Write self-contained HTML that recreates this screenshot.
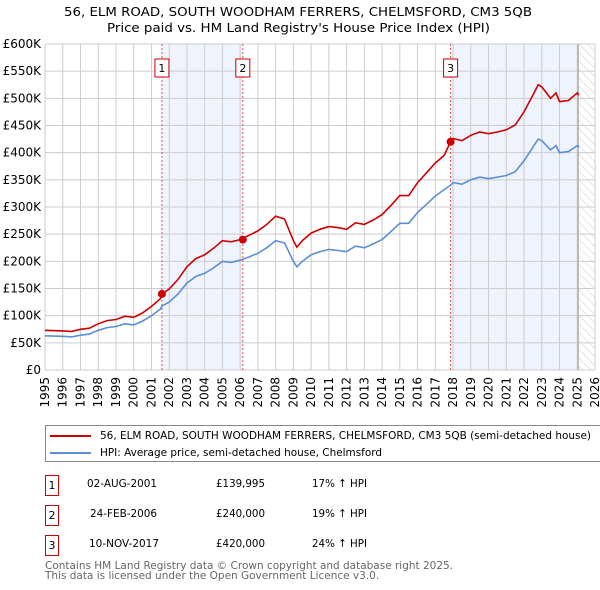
<!DOCTYPE html>
<html><head><meta charset="utf-8"><style>
body{margin:0;background:#fff;font-family:"DejaVu Sans","Liberation Sans",sans-serif;}
#wrap{position:relative;width:600px;height:590px;overflow:hidden;}
.t{position:absolute;font-size:11px;color:#000;white-space:nowrap;}
.fit{transform-origin:0 0;}
.box{position:absolute;border:1px solid #c00;width:12px;height:19px;font-size:11px;text-align:center;line-height:19px;}
</style></head><body><div id="wrap">
<svg id="chart" width="600" height="420" style="position:absolute;left:0;top:0"></svg>
<div style="position:absolute;left:45px;top:425px;width:560px;height:35px;border:1px solid #888;"></div>
<div style="position:absolute;left:50px;top:435px;width:41px;height:2px;background:#c00"></div>
<div class="t fit" data-w="491" style="left:100px;top:429px;">56, ELM ROAD, SOUTH WOODHAM FERRERS, CHELMSFORD, CM3 5QB (semi-detached house)</div>
<div style="position:absolute;left:50px;top:452px;width:41px;height:2px;background:#5b8fd4"></div>
<div class="t fit" data-w="282" style="left:100px;top:446px;">HPI: Average price, semi-detached house, Chelmsford</div>

<div class="box" style="left:45px;top:475px">1</div>
<div class="t fit" data-w="70" style="left:87px;top:477px">02-AUG-2001</div>
<div class="t fit" data-w="49" style="left:216px;top:477px">£139,995</div>
<div class="t fit" data-w="55" style="left:312px;top:477px">17% ↑ HPI</div>
<div class="box" style="left:45px;top:505px">2</div>
<div class="t fit" data-w="67" style="left:90px;top:507px">24-FEB-2006</div>
<div class="t fit" data-w="49" style="left:216px;top:507px">£240,000</div>
<div class="t fit" data-w="55" style="left:312px;top:507px">19% ↑ HPI</div>
<div class="box" style="left:45px;top:535px">3</div>
<div class="t fit" data-w="70" style="left:89px;top:537px">10-NOV-2017</div>
<div class="t fit" data-w="49" style="left:216px;top:537px">£420,000</div>
<div class="t fit" data-w="55" style="left:312px;top:537px">24% ↑ HPI</div>
<div class="t fit" data-w="408" style="left:45px;top:561px;color:#666;font-size:11px;line-height:10px">Contains HM Land Registry data © Crown copyright and database right 2025.<br>This data is licensed under the Open Government Licence v3.0.</div>
</div>
<script>
const years=[1995,1996,1996.5,1997,1997.5,1998,1998.5,1999,1999.5,2000,2000.5,2001,2001.5,2001.6,2002,2002.5,2003,2003.5,2004,2004.5,2005,2005.5,2006,2006.5,2007,2007.5,2008,2008.5,2009,2009.2,2009.5,2010,2010.5,2011,2011.5,2012,2012.5,2013,2013.5,2014,2014.5,2015,2015.5,2016,2016.5,2017,2017.5,2017.86,2018,2018.5,2019,2019.5,2020,2020.5,2021,2021.5,2022,2022.5,2022.8,2023,2023.5,2023.8,2024,2024.5,2025,2025.1];
const hpi=[63,62,61,64,66,73,78,80,85,83,90,100,112,118,125,140,160,172,178,188,200,198,202,208,215,225,238,234,200,190,200,212,218,222,220,218,228,225,232,240,255,270,270,290,305,320,332,340,345,342,350,355,352,355,358,365,385,410,425,422,405,413,400,402,413,410];
const prop=[73,72,71,75,77,85,91,93,99,97,105,117,131,140,149,167,190,205,212,224,238,236,240,248,256,268,283,278,238,226,238,252,259,264,262,259,271,268,276,286,303,321,321,345,363,381,395,420,426,422,432,438,435,438,442,451,475,506,525,521,500,510,494,496,510,506];
const saleYears=[2001.59,2006.15,2017.86];
const salePrices=[139995,240000,420000];
const saleLabels=["1","2","3"];
const yTicks=[0,50,100,150,200,250,300,350,400,450,500,550,600];
const xTicks=[1995,1996,1997,1998,1999,2000,2001,2002,2003,2004,2005,2006,2007,2008,2009,2010,2011,2012,2013,2014,2015,2016,2017,2018,2019,2020,2021,2022,2023,2024,2025,2026];
document.querySelectorAll('.fit').forEach(el=>{const w=el.getBoundingClientRect().width;el.style.transform='scaleX('+(el.dataset.w/w)+')';});
const X0=45,X1=595,Y0=370,Y1=44;
const x=v=>X0+(v-1995)/(2026-1995)*(X1-X0);
const y=v=>Y0-v/600*(Y0-Y1);
const s=document.getElementById('chart');const NS='http://www.w3.org/2000/svg';
function mk(t,a,p){const e=document.createElementNS(NS,t);for(const k in a)e.setAttribute(k,a[k]);(p||s).appendChild(e);return e;}
let e;
e=mk('text',{x:64,y:16,'font-size':'12.5','font-family':'DejaVu Sans,sans-serif',textLength:468,lengthAdjust:'spacingAndGlyphs'});e.textContent='56, ELM ROAD, SOUTH WOODHAM FERRERS, CHELMSFORD, CM3 5QB';


e=mk('text',{x:107,y:32,'font-size':'12.5','font-family':'DejaVu Sans,sans-serif',textLength:383,lengthAdjust:'spacingAndGlyphs'});e.textContent="Price paid vs. HM Land Registry's House Price Index (HPI)";


const defs=mk('defs',{});
const pat=mk('pattern',{id:'hatch',width:6,height:6,patternUnits:'userSpaceOnUse',patternTransform:'rotate(-45)'},defs);
mk('line',{x1:0,y1:0,x2:0,y2:6,stroke:'#ccc','stroke-width':1},pat);
e=mk('rect',{x:x(2001.59),y:Y1,width:x(2006.15)-x(2001.59),height:Y0-Y1,fill:'#eef3fc'});


e=mk('rect',{x:x(2017.86),y:Y1,width:x(2025.05)-x(2017.86),height:Y0-Y1,fill:'#eef3fc'});


e=mk('rect',{x:x(2025.05),y:Y1,width:X1-x(2025.05),height:Y0-Y1,fill:'url(#hatch)'});


yTicks.forEach(v=>{e=mk('line',{x1:X0,x2:X1,y1:y(v),y2:y(v),stroke:'#ccc'});


e=mk('text',{x:41,y:y(v)+4,'text-anchor':'end','font-size':'12','font-family':'DejaVu Sans,Liberation Sans,sans-serif'});e.textContent='£'+(v?v+'K':'0');

});
xTicks.forEach(v=>{e=mk('line',{x1:x(v),x2:x(v),y1:Y1,y2:Y0,stroke:'#ccc'});


e=mk('text',{x:0,y:0,transform:`translate(${x(v)+4},${Y0+7}) rotate(-90)`,'text-anchor':'end','font-size':'12','font-family':'DejaVu Sans,Liberation Sans,sans-serif'});e.textContent=v;

});
e=mk('line',{x1:x(2025.05),x2:x(2025.05),y1:Y1,y2:Y0,stroke:'#999'});


saleYears.forEach((v,i)=>{e=mk('line',{x1:x(v),x2:x(v),y1:Y1,y2:Y0,stroke:'#e05050','stroke-dasharray':'2,2'});


const bx=x(v)-7,by=59;
e=mk('rect',{x:bx,y:by,width:14,height:18,fill:'#fff',stroke:'#c00'});


e=mk('text',{x:x(v),y:by+13,'text-anchor':'middle','font-size':'11','font-family':'DejaVu Sans,sans-serif'});e.textContent=saleLabels[i];

});
const path=arr=>arr.map((v,i)=>(i?'L':'M')+x(years[i]).toFixed(1)+','+y(v).toFixed(1)).join('');
e=mk('path',{d:path(hpi),fill:'none',stroke:'#5b8fd4','stroke-width':1.6});


e=mk('path',{d:path(prop),fill:'none',stroke:'#cc0000','stroke-width':1.6});


saleYears.forEach((v,i)=>{e=mk('circle',{cx:x(v),cy:y(salePrices[i]/1000),r:4,fill:'#cc0000'});

});
</script></body></html>
